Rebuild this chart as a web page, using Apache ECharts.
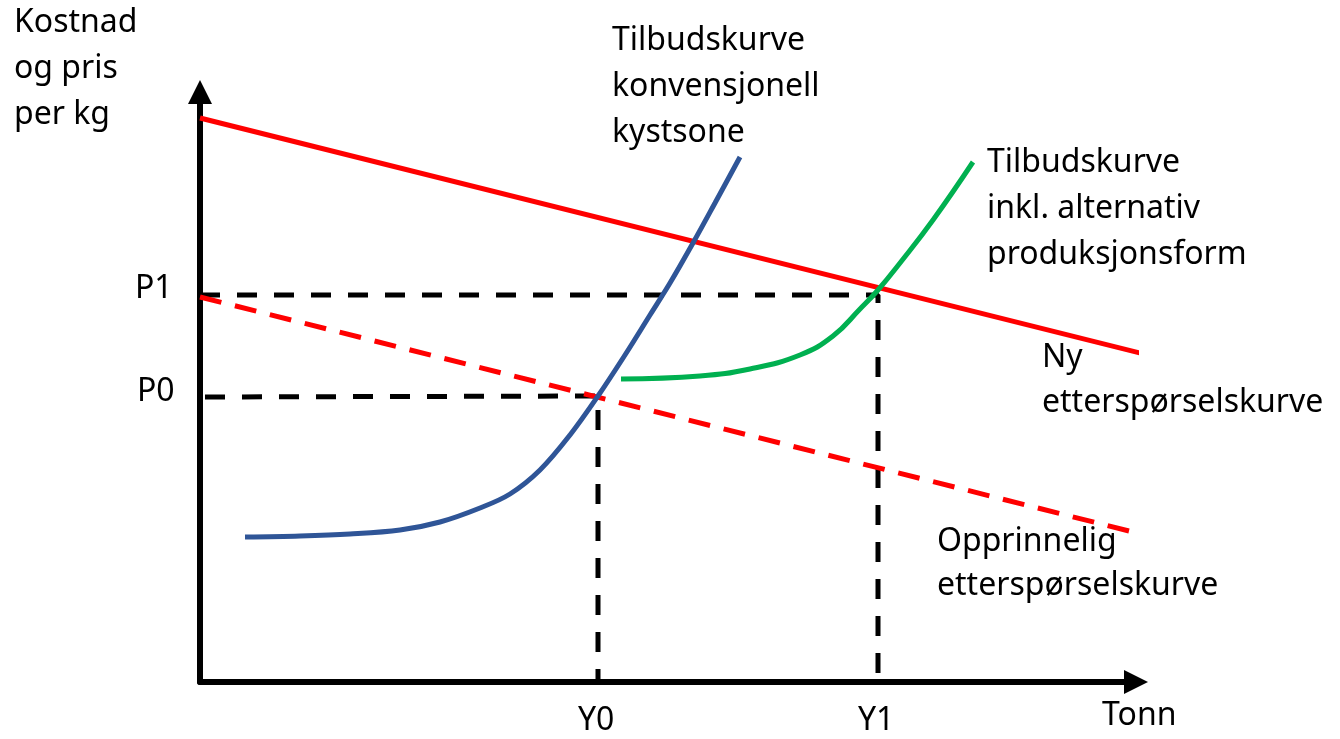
<!DOCTYPE html>
<html>
<head>
<meta charset="utf-8">
<script src="https://cdn.jsdelivr.net/npm/echarts@6/dist/echarts.min.js"></script>
<style>
  html, body { margin: 0; padding: 0; background: #fff; }
</style>
</head>
<body>
<div id="main" style="width: 1340px; height: 739px"></div>
<script>
// kurver lest av figuren, enheter: x = mengde, y = kostnad/pris
const nyEtterspørsel = [[0, 56.4], [94.0, 32.9]];
const opprEtterspørsel = [[0, 38.5], [94.5, 14.7]];
const tilbudKonv = [
  [4.5, 14.5], [10.0, 14.6], [15.0, 14.8], [20.0, 15.2], [24.0, 16.0],
  [28.0, 17.4], [31.0, 18.8], [34.0, 21.2], [37.0, 24.7], [39.8, 28.6],
  [42.5, 32.7], [45.0, 36.7], [47.0, 39.9], [49.3, 43.9], [51.5, 47.9], [54.0, 52.5]
];
const tilbudAlt = [
  [42.1, 30.3], [50.0, 30.6], [55.0, 31.3], [60.0, 32.7], [63.3, 34.6],
  [66.0, 37.3], [67.8, 39.2], [70.0, 41.9], [73.3, 46.2], [77.3, 52.0]
];
const P0 = 28.5, P1 = 38.7;
const Y0 = 39.8, Y1 = 67.8;
const xMax = 93.6, yMax = 59.0;

const font = '32px "Noto Sans"';

const myChart = echarts.init(document.getElementById('main'));

function dashed(points) {
  return {
    type: 'line',
    data: points,
    symbol: 'none',
    clip: false,
    z: 2,
    lineStyle: { color: '#000', width: 5, type: [20, 17] }
  };
}

const option = {
  animation: false,
  grid: { left: 200, right: 204, top: 92, bottom: 57 },
  xAxis: {
    type: 'value', min: 0, max: xMax,
    splitLine: { show: false },
    axisTick: { show: false },
    axisLabel: { show: false },
    axisLine: {
      lineStyle: { color: '#000', width: 6 },
      symbol: ['none', 'triangle'],
      symbolSize: [24, 24]
    }
  },
  yAxis: {
    type: 'value', min: 0, max: yMax,
    splitLine: { show: false },
    axisTick: { show: false },
    axisLabel: { show: false },
    axisLine: {
      lineStyle: { color: '#000', width: 6 },
      symbol: ['none', 'triangle'],
      symbolSize: [24, 24]
    }
  },
  series: [
    dashed([[0, P1], [Y1, P1], [Y1, 0]]),
    dashed([[0.5, P0], [Y0, P0 + 0.1], [Y0, 0]]),
    {
      name: 'Opprinnelig etterspørselskurve',
      type: 'line', data: opprEtterspørsel, symbol: 'none', clip: false, z: 3,
      lineStyle: { color: '#ff0000', width: 5, type: [22, 14] }
    },
    {
      name: 'Ny etterspørselskurve',
      type: 'line', data: nyEtterspørsel, symbol: 'none', clip: false, z: 3,
      lineStyle: { color: '#ff0000', width: 5 }
    },
    {
      name: 'Tilbudskurve konvensjonell kystsone',
      type: 'line', data: tilbudKonv, symbol: 'none', smooth: 0.35, clip: false, z: 4,
      lineStyle: { color: '#2f5597', width: 5 }
    },
    {
      name: 'Tilbudskurve inkl. alternativ produksjonsform',
      type: 'line', data: tilbudAlt, symbol: 'none', smooth: 0.45, clip: false, z: 4,
      lineStyle: { color: '#00b050', width: 5 }
    }
  ],
  graphic: [
    { type: 'text', left: 14, top: 0, style: { text: 'Kostnad\nog pris\nper kg', font: font, lineHeight: 46, fill: '#000' } },
    { type: 'text', left: 612, top: 18, style: { text: 'Tilbudskurve\nkonvensjonell\nkystsone', font: font, lineHeight: 46, fill: '#000' } },
    { type: 'text', left: 987, top: 140, style: { text: 'Tilbudskurve\ninkl. alternativ\nproduksjonsform', font: font, lineHeight: 46, fill: '#000' } },
    { type: 'text', left: 1042, top: 335, style: { text: 'Ny\netterspørselskurve', font: font, lineHeight: 45, fill: '#000' } },
    { type: 'text', left: 937, top: 520, style: { text: 'Opprinnelig\netterspørselskurve', font: font, lineHeight: 44, fill: '#000' } },
    { type: 'text', left: 135, top: 273, style: { text: 'P1', font: font, fill: '#000' } },
    { type: 'text', left: 137, top: 376, style: { text: 'P0', font: font, fill: '#000' } },
    { type: 'text', left: 578, top: 705, style: { text: 'Y0', font: font, fill: '#000' } },
    { type: 'text', left: 858, top: 705, style: { text: 'Y1', font: font, fill: '#000' } },
    { type: 'text', left: 1102, top: 700, style: { text: 'Tonn', font: font, fill: '#000' } }
  ]
};

myChart.setOption(option);
</script>
</body>
</html>
